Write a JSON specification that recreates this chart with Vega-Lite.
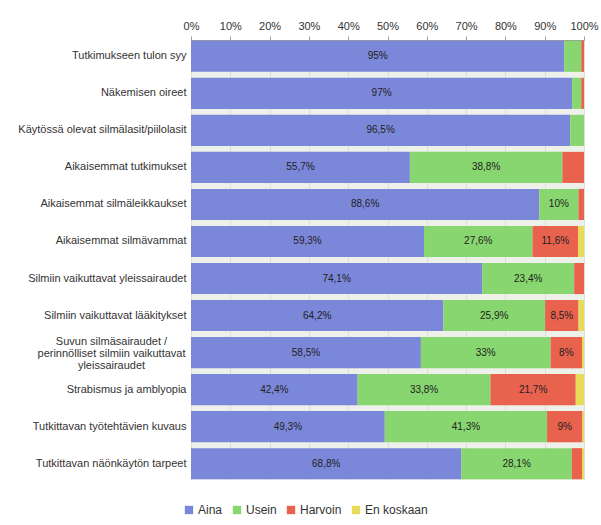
{
  "$schema": "https://vega.github.io/schema/vega-lite/v6.json",
  "autosize": "none",
  "width": 393,
  "height": 440,
  "padding": {"left": 191, "top": 40, "right": 17, "bottom": 45},
  "background": "white",
  "config": {
    "font": "Liberation Sans",
    "view": {"fill": "#eef0ea", "stroke": null},
    "axisX": {"labelOverlap": false, "labelFlush": false}
  },
  "data": {
    "values": [
      {"q": "Tutkimukseen tulon syy", "s": "Aina", "v": 95},
      {"q": "Tutkimukseen tulon syy", "s": "Usein", "v": 4.3},
      {"q": "Tutkimukseen tulon syy", "s": "Harvoin", "v": 0.7},
      {"q": "Näkemisen oireet", "s": "Aina", "v": 97},
      {"q": "Näkemisen oireet", "s": "Usein", "v": 2.3},
      {"q": "Näkemisen oireet", "s": "Harvoin", "v": 0.7},
      {"q": "Käytössä olevat silmälasit/piilolasit", "s": "Aina", "v": 96.5},
      {"q": "Käytössä olevat silmälasit/piilolasit", "s": "Usein", "v": 3.5},
      {"q": "Aikaisemmat tutkimukset", "s": "Aina", "v": 55.7},
      {"q": "Aikaisemmat tutkimukset", "s": "Usein", "v": 38.8},
      {"q": "Aikaisemmat tutkimukset", "s": "Harvoin", "v": 5.5},
      {"q": "Aikaisemmat silmäleikkaukset", "s": "Aina", "v": 88.6},
      {"q": "Aikaisemmat silmäleikkaukset", "s": "Usein", "v": 10},
      {"q": "Aikaisemmat silmäleikkaukset", "s": "Harvoin", "v": 1.4},
      {"q": "Aikaisemmat silmävammat", "s": "Aina", "v": 59.3},
      {"q": "Aikaisemmat silmävammat", "s": "Usein", "v": 27.6},
      {"q": "Aikaisemmat silmävammat", "s": "Harvoin", "v": 11.6},
      {"q": "Aikaisemmat silmävammat", "s": "En koskaan", "v": 1.5},
      {"q": "Silmiin vaikuttavat yleissairaudet", "s": "Aina", "v": 74.1},
      {"q": "Silmiin vaikuttavat yleissairaudet", "s": "Usein", "v": 23.4},
      {"q": "Silmiin vaikuttavat yleissairaudet", "s": "Harvoin", "v": 2.5},
      {"q": "Silmiin vaikuttavat lääkitykset", "s": "Aina", "v": 64.2},
      {"q": "Silmiin vaikuttavat lääkitykset", "s": "Usein", "v": 25.9},
      {"q": "Silmiin vaikuttavat lääkitykset", "s": "Harvoin", "v": 8.5},
      {"q": "Silmiin vaikuttavat lääkitykset", "s": "En koskaan", "v": 1.4},
      {"q": "Suvun silmäsairaudet / perinnölliset silmiin vaikuttavat yleissairaudet", "s": "Aina", "v": 58.5},
      {"q": "Suvun silmäsairaudet / perinnölliset silmiin vaikuttavat yleissairaudet", "s": "Usein", "v": 33},
      {"q": "Suvun silmäsairaudet / perinnölliset silmiin vaikuttavat yleissairaudet", "s": "Harvoin", "v": 8},
      {"q": "Suvun silmäsairaudet / perinnölliset silmiin vaikuttavat yleissairaudet", "s": "En koskaan", "v": 0.5},
      {"q": "Strabismus ja amblyopia", "s": "Aina", "v": 42.4},
      {"q": "Strabismus ja amblyopia", "s": "Usein", "v": 33.8},
      {"q": "Strabismus ja amblyopia", "s": "Harvoin", "v": 21.7},
      {"q": "Strabismus ja amblyopia", "s": "En koskaan", "v": 2.1},
      {"q": "Tutkittavan työtehtävien kuvaus", "s": "Aina", "v": 49.3},
      {"q": "Tutkittavan työtehtävien kuvaus", "s": "Usein", "v": 41.3},
      {"q": "Tutkittavan työtehtävien kuvaus", "s": "Harvoin", "v": 9},
      {"q": "Tutkittavan työtehtävien kuvaus", "s": "En koskaan", "v": 0.4},
      {"q": "Tutkittavan näönkäytön tarpeet", "s": "Aina", "v": 68.8},
      {"q": "Tutkittavan näönkäytön tarpeet", "s": "Usein", "v": 28.1},
      {"q": "Tutkittavan näönkäytön tarpeet", "s": "Harvoin", "v": 2.6},
      {"q": "Tutkittavan näönkäytön tarpeet", "s": "En koskaan", "v": 0.5}
    ]
  },
  "transform": [
    {"calculate": "indexof(['Aina','Usein','Harvoin','En koskaan'], datum.s)", "as": "o"},
    {"stack": "v", "groupby": ["q"], "sort": [{"field": "o", "order": "ascending"}], "offset": "normalize", "as": ["x0", "x1"]},
    {"calculate": "(datum.x0 + datum.x1) / 2", "as": "xm"},
    {"calculate": "datum.v >= 8 ? replace(format(datum.v, ''), '.', ',') + '%' : ''", "as": "lab"}
  ],
  "encoding": {
    "y": {
      "field": "q",
      "type": "nominal",
      "sort": null,
      "title": null,
      "scale": {"paddingInner": 0.16, "paddingOuter": 0.02},
      "axis": {
        "domain": false,
        "ticks": false,
        "labelFontSize": 11,
        "labelColor": "#333333",
        "labelLimit": 400,
        "labelLineHeight": 12,
        "labelAlign": {"condition": {"test": "indexof(datum.value, 'Suvun') == 0", "value": "center"}, "value": "right"},
        "labelPadding": {"condition": {"test": "indexof(datum.value, 'Suvun') == 0", "value": 80}, "value": 5},
        "labelOffset": {"condition": {"test": "indexof(datum.value, 'Suvun') == 0", "value": -11}, "value": 0},
        "labelExpr": "indexof(datum.value, 'Suvun') == 0 ? ['Suvun silmäsairaudet /', 'perinnölliset silmiin vaikuttavat', 'yleissairaudet'] : datum.value"
      }
    }
  },
  "layer": [
    {
      "mark": {"type": "bar"},
      "encoding": {
        "x": {
          "field": "x0",
          "type": "quantitative",
          "scale": {"domain": [0, 1], "nice": false},
          "title": null,
          "axis": {
            "orient": "top",
            "format": ".0%",
            "values": [0, 0.1, 0.2, 0.3, 0.4, 0.5, 0.6, 0.7, 0.8, 0.9, 1],
            "labelOverlap": false,
            "labelFlush": false,
            "labelFontSize": 11,
            "labelColor": "#333333",
            "domainColor": "#999999",
            "tickColor": "#999999",
            "tickSize": 4,
            "labelPadding": 5,
            "grid": true,
            "gridColor": "#dcdfd6",
            "gridWidth": 1
          }
        },
        "x2": {"field": "x1"},
        "color": {
          "field": "s",
          "type": "nominal",
          "sort": ["Aina", "Usein", "Harvoin", "En koskaan"],
          "scale": {"domain": ["Aina", "Usein", "Harvoin", "En koskaan"], "range": ["#7b87d9", "#88d66f", "#e8624e", "#e6dc58"]},
          "legend": {
            "title": null,
            "orient": "none",
            "direction": "horizontal",
            "legendX": -8,
            "legendY": 464,
            "symbolType": "square",
            "symbolSize": 70,
            "symbolStrokeWidth": 0,
            "labelFontSize": 12,
            "labelColor": "#333333",
            "columnPadding": 8,
            "labelOffset": 3
          }
        }
      }
    },
    {
      "mark": {"type": "text", "fontSize": 10, "color": "#222222"},
      "encoding": {
        "x": {
          "field": "xm",
          "type": "quantitative",
          "title": null,
          "axis": {
            "orient": "top",
            "format": ".0%",
            "values": [0, 0.1, 0.2, 0.3, 0.4, 0.5, 0.6, 0.7, 0.8, 0.9, 1],
            "labelOverlap": false,
            "labelFlush": false,
            "labelFontSize": 11,
            "labelColor": "#333333",
            "domainColor": "#999999",
            "tickColor": "#999999",
            "tickSize": 4,
            "labelPadding": 5,
            "grid": true,
            "gridColor": "#dcdfd6",
            "gridWidth": 1
          }
        },
        "text": {"field": "lab"}
      }
    }
  ]
}
